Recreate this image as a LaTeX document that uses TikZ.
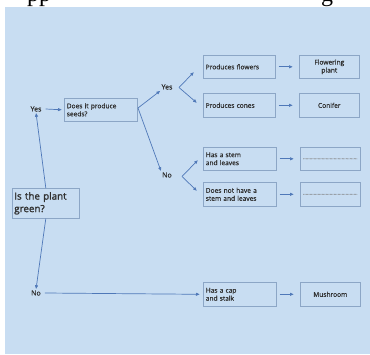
\documentclass[tikz,border=0pt]{standalone}
\usepackage{fontspec}
\setmainfont{Open Sans}
\newfontfamily\medfont{Open Sans}[FakeBold=0.7]
\newfontfamily\boldfont{Open Sans}[FakeBold=1.6]
\newfontfamily\serifttl{Liberation Serif}
\usetikzlibrary{arrows.meta}
\definecolor{bgblue}{HTML}{C8DDF2}
\definecolor{edgecol}{HTML}{8CA6C6}
\definecolor{arrcol}{HTML}{4F78B8}
\definecolor{txtcol}{HTML}{303030}
\begin{document}
\begin{tikzpicture}[x=1pt,y=-1pt,
  box/.style={draw=edgecol,line width=0.6pt,inner sep=0pt,text=txtcol,
    font=\medfont\fontsize{6.6}{8}\selectfont,anchor=north west},
  lbox/.style={box,align=left},
  cbox/.style={box,align=center},
  lbl/.style={text=txtcol,inner sep=1pt,font=\medfont\fontsize{7}{8}\selectfont},
  con/.style={draw=arrcol,line width=0.7pt,-{Latex[length=4pt,width=3.4pt]}},
  ttl/.style={inner sep=0pt,anchor=base west,font=\serifttl\fontsize{24}{24}\selectfont}]
\clip (0,0) rectangle (370,354);
\fill[white] (0,0) rectangle (370,354);
\node[ttl] (ttla) at (27,1) {pp};
\node[ttl] (ttlb) at (321,1) {g};
\fill[bgblue] (5,7) rectangle (370,354);

% boxes
\node[lbox,minimum width=73pt,minimum height=23pt,text width=68pt] (seeds) at (64,98) {Does it produce\\seeds?};
\node[lbox,minimum width=67pt,minimum height=30pt,text width=63pt,font=\boldfont\fontsize{9.8}{12.5}\selectfont] (green) at (12,188) {Is the plant\\green?};

\node[lbox,minimum width=72pt,minimum height=23pt,text width=67pt] (flowers) at (203,55) {Produces flowers};
\node[cbox,minimum width=60pt,minimum height=23pt,text width=56pt] (fplant) at (299,55) {Flowering\\plant};
\node[lbox,minimum width=72pt,minimum height=24pt,text width=67pt] (cones) at (203,93) {Produces cones};
\node[cbox,minimum width=60pt,minimum height=24pt,text width=56pt] (conifer) at (299,93) {Conifer};

\node[lbox,minimum width=73pt,minimum height=23pt,text width=68pt] (stem) at (203,147) {Has a stem\\and leaves};
\node[cbox,minimum width=60pt,minimum height=23pt,text width=56pt,text=gray] (dotsa) at (300,147) {\fontsize{5}{6}\selectfont .........................................};
\node[lbox,minimum width=73pt,minimum height=24pt,text width=68pt] (nostem) at (203,182) {Does not have a\\stem and leaves};
\node[cbox,minimum width=60pt,minimum height=24pt,text width=56pt,text=gray] (dotsb) at (300,182) {\fontsize{5}{6}\selectfont .........................................};

\node[lbox,minimum width=73pt,minimum height=24pt,text width=68pt] (cap) at (203,282) {Has a cap\\and stalk};
\node[cbox,minimum width=60pt,minimum height=24pt,text width=56pt] (mush) at (300,282) {Mushroom};

% labels
\node[lbl] (yesa) at (36,109) {Yes};
\node[lbl] (yesb) at (167,87) {Yes};
\node[lbl] (noa) at (167,175) {No};
\node[lbl] (nob) at (36,293) {No};

% branch coordinates
\coordinate (sp) at (138,108);
\coordinate (yesbr) at (179,87.5);
\coordinate (yesbu) at (194,72);
\coordinate (yesbd) at (197,103);
\coordinate (noar) at (182,176.5);
\coordinate (noau) at (198,160);
\coordinate (noad) at (197,191);

% connectors
\draw[con] (green.north) -- (yesa.south);
\draw[con] (yesa.east) ++(3,0) -- ([xshift=-2pt]seeds.west);
\draw[con] (sp) -- (yesb.south west);
\draw[con] (sp) -- (noa.north west);
\draw[con] (yesbr) -- (yesbu);
\draw[con] (yesbr) -- (yesbd);
\draw[con] (noar) -- (noau);
\draw[con] (noar) -- (noad);
\draw[con] (green.south) -- (nob.north);
\draw[con] (nob.east) ++(3,0) -- ([xshift=-3pt]cap.west);
\foreach \a/\b in {flowers/fplant,cones/conifer,stem/dotsa,nostem/dotsb,cap/mush}
  \draw[con] ([xshift=3pt]\a.east) -- ([xshift=-6pt]\b.west);
\end{tikzpicture}
\end{document}
